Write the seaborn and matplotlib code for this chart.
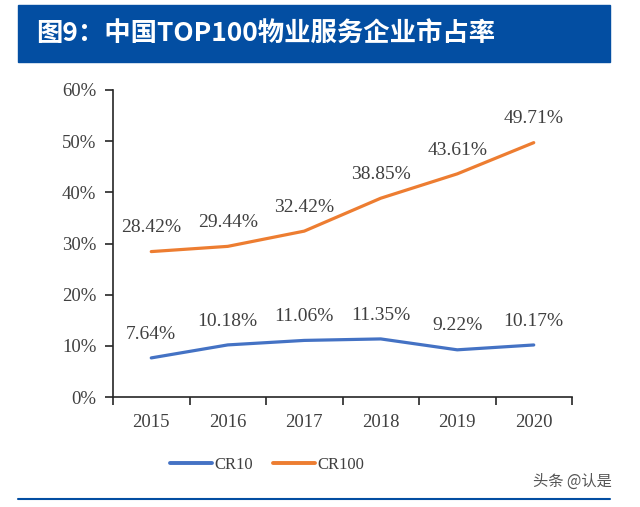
import numpy as np
import pandas as pd
import matplotlib.pyplot as plt
import seaborn as sns
from matplotlib.ticker import FixedLocator
from matplotlib.lines import Line2D

years = ['2015', '2016', '2017', '2018', '2019', '2020']
cr10 = [7.64, 10.18, 11.06, 11.35, 9.22, 10.17]
cr100 = [28.42, 29.44, 32.42, 38.85, 43.61, 49.71]
yticks = [0, 10, 20, 30, 40, 50, 60]

sns.set_style('white')
plt.rcParams['font.family'] = ['Liberation Serif', 'DejaVu Serif']

df = pd.DataFrame({
    'pos': list(range(len(years))) * 2,
    'value': cr10 + cr100,
    'series': ['CR10'] * len(years) + ['CR100'] * len(years),
})

fig = plt.figure(figsize=(6.4, 5.07), dpi=100)
ax = fig.add_axes([113 / 640, 1 - 397 / 507, 459 / 640, 307 / 507])

sns.lineplot(data=df, x='pos', y='value', hue='series',
             palette={'CR10': '#4472C4', 'CR100': '#ED7D31'},
             linewidth=2.3, legend=False, ax=ax)

# data labels
for vals in (cr10, cr100):
    for i, v in enumerate(vals):
        ax.text(i, v + 3.0, f'{v:.2f}%', ha='center', va='bottom',
                fontsize=14, color='#404040')

ax.set_xlim(-0.5, len(years) - 0.5)
ax.set_ylim(0, 60)
ax.set_yticks(yticks)
ax.set_yticklabels([f'{t}%' for t in yticks], fontsize=13.5, color='#404040')
ax.set_xticks(range(len(years)))
ax.set_xticklabels(years, fontsize=13.5, color='#404040')
ax.tick_params(axis='x', which='major', bottom=False, length=0, pad=12)
ax.xaxis.set_minor_locator(FixedLocator(np.arange(-0.5, len(years), 1.0)))
ax.tick_params(axis='x', which='minor', bottom=True, length=6, width=1.2,
               direction='out', color='#262626')
ax.tick_params(axis='y', left=True, length=6, width=1.2, direction='out',
               color='#262626', pad=6)
ax.set_xlabel('')
ax.set_ylabel('')
for s in ['top', 'right']:
    ax.spines[s].set_visible(False)
for s in ['left', 'bottom']:
    ax.spines[s].set_color('#262626')
    ax.spines[s].set_linewidth(1.2)

# legend
handles = [Line2D([], [], color='#4472C4', lw=2.8), Line2D([], [], color='#ED7D31', lw=2.8)]
fig.legend(handles, ['CR10', 'CR100'], loc='center', bbox_to_anchor=(267 / 640, 1 - 465 / 507),
           ncol=2, frameon=False, fontsize=12, handlelength=2.5, handletextpad=0.15,
           columnspacing=1.2, labelcolor='#404040')

# title banner
fig.patches.append(plt.Rectangle((18 / 640, 1 - 62 / 507), 592 / 640, 57 / 507,
                                 transform=fig.transFigure, color='#034EA2', zorder=0))
fig.text(36 / 640, 1 - 34 / 507, '图9：中国TOP100物业服务企业市占率', color='white',
         fontsize=19, fontweight='bold', va='center', ha='left',
         family=['Noto Sans CJK SC', 'DejaVu Sans'])

# bottom rule
fig.add_artist(Line2D([18 / 640, 610 / 640], [1 - 499 / 507] * 2, transform=fig.transFigure,
                      color='#034EA2', lw=1.5))
fig.text(612 / 640, 1 - 481 / 507, '头条 @认是', color='#555555', fontsize=11,
         ha='right', va='center', family=['Noto Sans CJK SC', 'DejaVu Sans'])

fig.savefig('out.png', dpi=100)
